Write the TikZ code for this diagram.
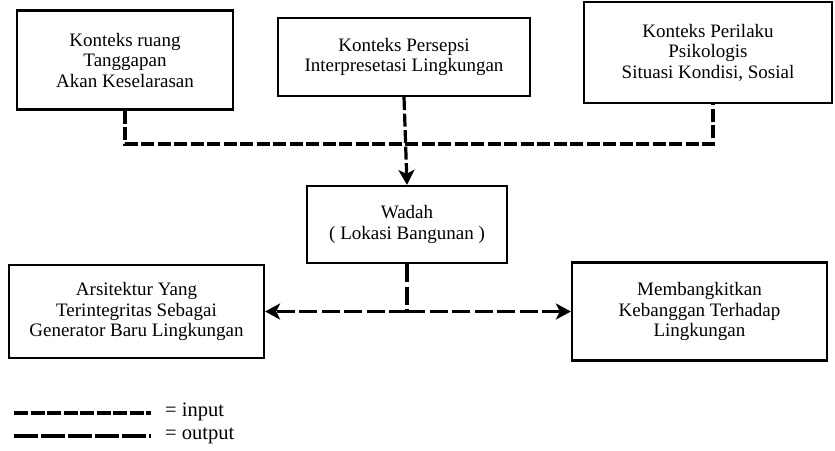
\documentclass[tikz,border=0pt]{standalone}
\usepackage{fontspec}
\setmainfont{Liberation Serif}
\usetikzlibrary{arrows.meta}
\begin{document}
\begin{tikzpicture}[x=1pt,y=-1pt,
  box/.style={draw, line width=2.2pt, align=center, inner sep=2pt,
    font=\fontsize{19}{20.5}\selectfont},
  inline/.style={line width=3.2pt, dash pattern=on 13pt off 3.5pt},
  outline/.style={line width=3.2pt, dash pattern=on 18pt off 4.5pt},
  tip/.style={-{Stealth[length=15pt,width=16pt,inset=4pt]}},
  legend/.style={anchor=west, font=\fontsize{20.5}{21}\selectfont, inner sep=0pt}]
\useasboundingbox (0,0) rectangle (835,450);

% context boxes
\node[box, minimum width=216, minimum height=99] (ruang) at (125,60)
  {Konteks ruang\\Tanggapan\\Akan Keselarasan};
\node[box, minimum width=252, minimum height=78] (persepsi) at (404,57)
  {Konteks Persepsi\\Interpresetasi Lingkungan};
\node[box, minimum width=248, minimum height=101] (perilaku) at (708,52.5)
  {Konteks Perilaku\\Psikologis\\Situasi Kondisi, Sosial};

% container
\node[box, minimum width=200, minimum height=77] (wadah) at (407,224.5)
  {Wadah\\( Lokasi Bangunan )};

% results
\node[box, minimum width=255, minimum height=93] (arsitektur) at (136.5,311.5)
  {Arsitektur Yang\\Terintegritas Sebagai\\Generator Baru Lingkungan};
\node[box, minimum width=255, minimum height=98] (bangga) at (699.5,311.5)
  {Membangkitkan\\Kebanggan Terhadap\\Lingkungan};

% input connectors
\coordinate (jl) at (ruang.south |- 0,144);
\coordinate (jr) at ([xshift=5pt]perilaku.south |- 0,144);
\draw[inline] (ruang.south) -- (jl) -- (jr) -- ([xshift=5pt]perilaku.south);
\draw[inline, tip] (persepsi.south) -- (wadah.north);

% output connectors
\coordinate (split) at (wadah.south |- arsitektur.east);
\draw[outline] (wadah.south) -- (split);
\draw[outline, tip] (split) -- (arsitektur.east);
\draw[outline, tip] (split) -- (bangga.west);

% legend
\coordinate (li1) at (14,413);
\coordinate (li2) at (151,413);
\coordinate (lo1) at (14,436);
\coordinate (lo2) at (151,436);
\draw[line width=3.2pt, dash pattern=on 14pt off 2.5pt] (li1) -- (li2);
\draw[line width=3.2pt, dash pattern=on 24pt off 3pt] (lo1) -- (lo2);
\node[legend] (lin) at (165,412) {= input};
\node[legend] (lout) at (165,436) {= output};
\end{tikzpicture}
\end{document}
